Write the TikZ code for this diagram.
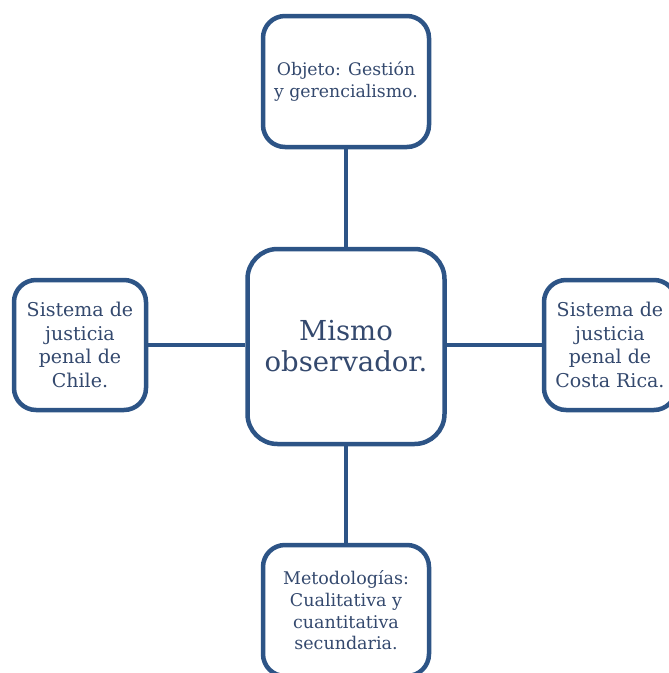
\documentclass[tikz,border=0pt]{standalone}
\usepackage{fontspec}
\setmainfont{DejaVu Serif}
\definecolor{frameblue}{HTML}{2D5486}
\definecolor{textblue}{HTML}{34496E}
\tikzset{
  box/.style={draw=frameblue, line width=4.5pt, fill=white, rounded corners=22pt,
    align=center, text=textblue, inner sep=0pt},
  link/.style={draw=frameblue, line width=4.5pt},
}
\begin{document}
\begin{tikzpicture}[x=1pt,y=-1pt]
\useasboundingbox (0,0) rectangle (669,673);
\node[box, minimum width=197pt, minimum height=195pt, rounded corners=30pt,
  font=\fontsize{27.5}{31}\selectfont] (center) at (346,346.5) {Mismo\\observador.};
\node[box, minimum width=166pt, minimum height=131pt,
  font=\fontsize{17.3}{22}\selectfont] (top) at (346,81.5) {Objeto: Gestión\\y gerencialismo.};
\node[box, minimum width=132pt, minimum height=130pt,
  font=\fontsize{19}{23.5}\selectfont] (left) at (80,345) {Sistema de\\justicia\\penal de\\Chile.};
\node[box, minimum width=132pt, minimum height=130pt,
  font=\fontsize{19}{23.5}\selectfont] (right) at (610,345) {Sistema de\\justicia\\penal de\\Costa Rica.};
\node[box, minimum width=166pt, minimum height=131pt,
  font=\fontsize{17.5}{21.7}\selectfont] (bottom) at (346,610.5) {Metodologías:\\Cualitativa y\\cuantitativa\\secundaria.};
\draw[link] (top.south) -- (center.north);
\draw[link] (center.south) -- (bottom.north);
\draw[link] (left.east) -- (left.east -| center.west);
\draw[link] (right.west) -- (right.west -| center.east);
\end{tikzpicture}
\end{document}
